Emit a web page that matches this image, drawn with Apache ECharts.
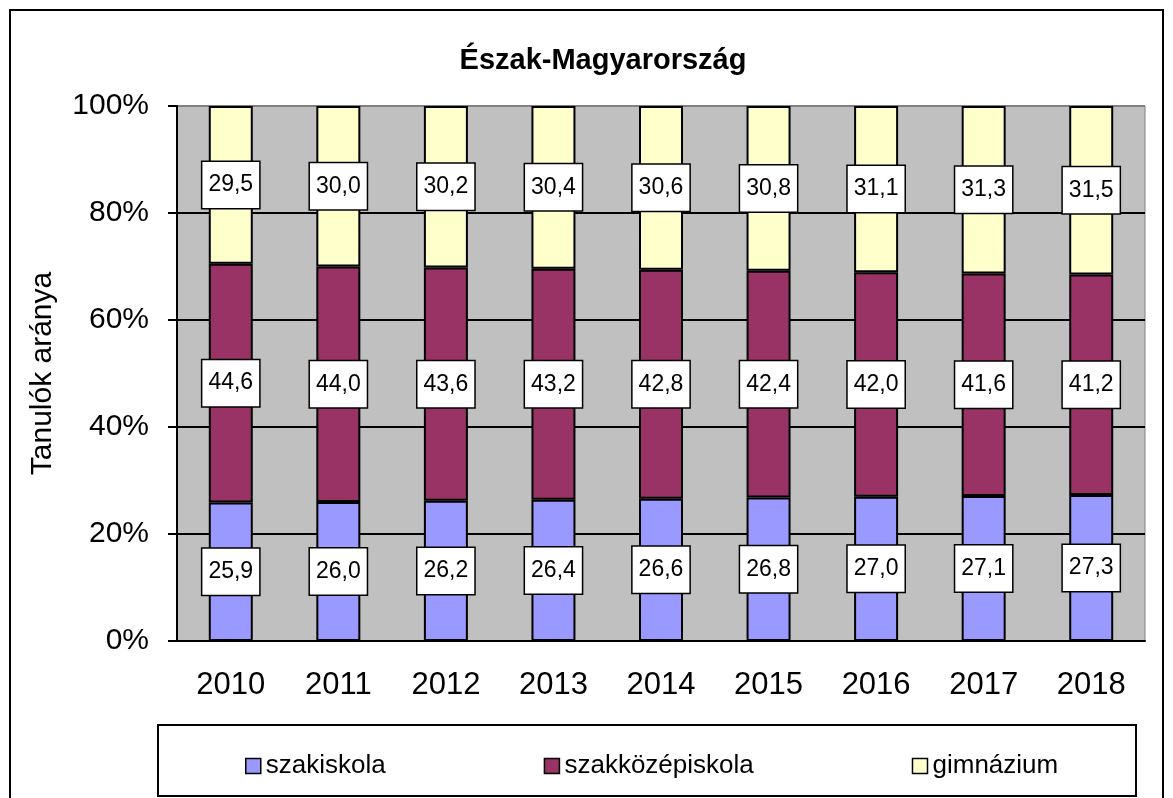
<!DOCTYPE html>
<html>
<head>
<meta charset="utf-8">
<script src="https://cdn.jsdelivr.net/npm/echarts@6/dist/echarts.min.js"></script>
<style>
  html, body { margin: 0; padding: 0; background: #fff; }
  #chart { width: 1173px; height: 798px; }
</style>
</head>
<body>
<div id="chart"></div>
<script>
// data
const years = ['2010', '2011', '2012', '2013', '2014', '2015', '2016', '2017', '2018']
const szakiskola = [25.9, 26.0, 26.2, 26.4, 26.6, 26.8, 27.0, 27.1, 27.3]
const szakkozep = [44.6, 44.0, 43.6, 43.2, 42.8, 42.4, 42.0, 41.6, 41.2]
const gimnazium = [29.5, 30.0, 30.2, 30.4, 30.6, 30.8, 31.1, 31.3, 31.5]
const seriesNames = ['szakiskola', 'szakközépiskola', 'gimnázium']
const colors = ['#9999FF', '#993366', '#FFFFCC']
const yTicks = [0, 20, 40, 60, 80, 100]

const font = "'Liberation Sans', Arial, sans-serif"

// 100% stacked: plot share of total, label with the raw value
const totals = years.map((y, i) => szakiskola[i] + szakkozep[i] + gimnazium[i])
function toShare(arr) {
    return arr.map((v, i) => ({ value: v / totals[i] * 100, raw: v }))
}

function makeSeries(name, arr, color) {
    return {
        name: name,
        type: 'bar',
        stack: 'total',
        barWidth: 44,
        data: toShare(arr),
        itemStyle: { color: color, borderColor: '#000', borderWidth: 2 },
        label: {
            show: true,
            position: 'inside',
            formatter: p => p.data.raw.toFixed(1).replace('.', ','),
            fontFamily: font,
            fontSize: 23,
            color: '#000',
            backgroundColor: '#fff',
            borderColor: '#000',
            borderWidth: 1.5,
            padding: [12, 6, 11, 6]
        },
        emphasis: { disabled: true }
    }
}

let chart = echarts.init(document.getElementById('chart'))
chart.setOption({
    animation: false,
    backgroundColor: '#fff',
    textStyle: { fontFamily: font },
    title: {
        text: 'Észak-Magyarország',
        left: 598,
        textAlign: 'center',
        top: 41,
        textStyle: { fontFamily: font, fontSize: 29, fontWeight: 'bold', color: '#000' }
    },
    graphic: [
        {
            type: 'rect',
            shape: { x: 10, y: 10, width: 1153, height: 800 },
            style: { fill: 'none', stroke: '#000', lineWidth: 2 },
            z: -1
        },
        {
            type: 'rect',
            shape: { x: 158, y: 725, width: 978, height: 71 },
            style: { fill: '#fff', stroke: '#000', lineWidth: 2 },
            z: -1
        }
    ],
    legend: {
        data: seriesNames,
        left: 240,
        top: 748,
        itemGap: 158,
        itemWidth: 15,
        itemHeight: 15,
        icon: 'rect',
        itemStyle: { borderWidth: 1.5, borderColor: '#000' },
        textStyle: { fontFamily: font, fontSize: 26, color: '#000' }
    },
    grid: {
        left: 177,
        top: 106,
        right: 28,
        bottom: 157,
        show: true,
        backgroundColor: '#C0C0C0',
        borderColor: '#808080',
        borderWidth: 1
    },
    xAxis: {
        type: 'category',
        data: years,
        axisLine: { lineStyle: { color: '#000', width: 2 } },
        axisTick: { length: 10, lineStyle: { color: '#000', width: 2 } },
        axisLabel: { fontFamily: font, fontSize: 31, color: '#000', margin: 29 }
    },
    yAxis: {
        type: 'value',
        min: yTicks[0],
        max: yTicks[yTicks.length - 1],
        interval: 20,
        name: 'Tanulók aránya',
        nameLocation: 'middle',
        nameRotate: 90,
        nameGap: 119,
        nameTextStyle: { fontFamily: font, fontSize: 30, color: '#000' },
        axisLine: { show: true, lineStyle: { color: '#000', width: 2 } },
        axisTick: { show: true, length: 9, lineStyle: { color: '#000', width: 2 } },
        axisLabel: { fontFamily: font, fontSize: 30, color: '#000', margin: 28, formatter: '{value}%' },
        splitLine: {
            show: true,
            lineStyle: { color: ['#000', '#000', '#000', '#000', '#000', '#808080'], width: 2 }
        }
    },
    series: [
        makeSeries(seriesNames[0], szakiskola, colors[0]),
        makeSeries(seriesNames[1], szakkozep, colors[1]),
        makeSeries(seriesNames[2], gimnazium, colors[2])
    ]
})
</script>
</body>
</html>
